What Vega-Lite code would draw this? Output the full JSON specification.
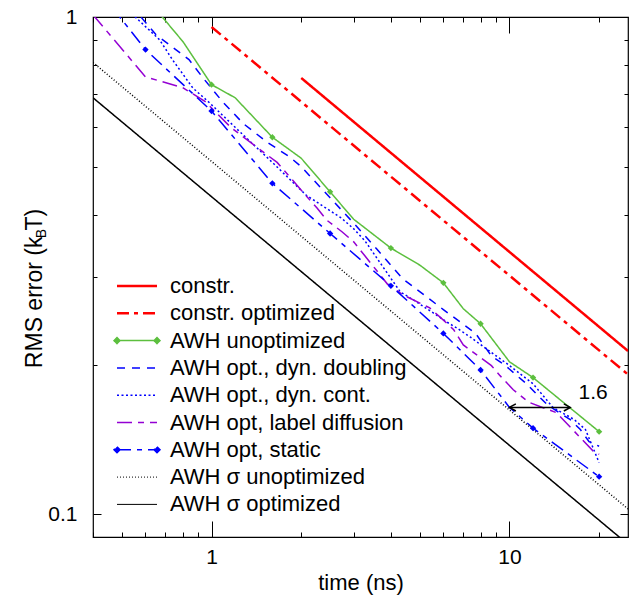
{
  "$schema": "https://vega.github.io/schema/vega-lite/v6.json",
  "width": 535,
  "height": 520,
  "autosize": {"type": "none"},
  "padding": {"left": 93, "top": 17, "right": 7, "bottom": 60},
  "background": "white",
  "config": {
    "view": {"stroke": "black", "strokeWidth": 1.2},
    "font": "Liberation Sans",
    "legend": {"labelFontSize": 22, "labelFont": "Liberation Sans"},
    "axis": {"labelFont": "Liberation Sans", "titleFont": "Liberation Sans", "labelColor": "black", "titleColor": "black", "tickColor": "black", "titleFontWeight": "normal", "domain": false, "grid": false, "labelOverlap": false, "labelFlush": false, "labelBound": false}
  },
  "datasets": {
    "d": [
      {"series": "constr.", "t": 2, "rms": 0.754},
      {"series": "constr.", "t": 25, "rms": 0.213},
      {"series": "constr. optimized", "t": 1, "rms": 0.955},
      {"series": "constr. optimized", "t": 25, "rms": 0.191},
      {"series": "AWH unoptimized", "t": 0.63, "rms": 1.06},
      {"series": "AWH unoptimized", "t": 0.803, "rms": 0.891},
      {"series": "AWH unoptimized", "t": 1, "rms": 0.731},
      {"series": "AWH unoptimized", "t": 1.2, "rms": 0.688},
      {"series": "AWH unoptimized", "t": 1.6, "rms": 0.573},
      {"series": "AWH unoptimized", "t": 2, "rms": 0.52},
      {"series": "AWH unoptimized", "t": 2.5, "rms": 0.445},
      {"series": "AWH unoptimized", "t": 3, "rms": 0.392},
      {"series": "AWH unoptimized", "t": 4, "rms": 0.343},
      {"series": "AWH unoptimized", "t": 5, "rms": 0.317},
      {"series": "AWH unoptimized", "t": 6, "rms": 0.292},
      {"series": "AWH unoptimized", "t": 7, "rms": 0.259},
      {"series": "AWH unoptimized", "t": 8, "rms": 0.2416},
      {"series": "AWH unoptimized", "t": 10, "rms": 0.2026},
      {"series": "AWH unoptimized", "t": 12, "rms": 0.1883},
      {"series": "AWH unoptimized", "t": 20, "rms": 0.1466},
      {"series": "AWH opt., dyn. doubling", "t": 0.5, "rms": 1.11},
      {"series": "AWH opt., dyn. doubling", "t": 0.65, "rms": 0.922},
      {"series": "AWH opt., dyn. doubling", "t": 0.84, "rms": 0.821},
      {"series": "AWH opt., dyn. doubling", "t": 0.94, "rms": 0.752},
      {"series": "AWH opt., dyn. doubling", "t": 1.09, "rms": 0.675},
      {"series": "AWH opt., dyn. doubling", "t": 1.28, "rms": 0.61},
      {"series": "AWH opt., dyn. doubling", "t": 1.53, "rms": 0.561},
      {"series": "AWH opt., dyn. doubling", "t": 1.83, "rms": 0.523},
      {"series": "AWH opt., dyn. doubling", "t": 2, "rms": 0.5},
      {"series": "AWH opt., dyn. doubling", "t": 2.5, "rms": 0.433},
      {"series": "AWH opt., dyn. doubling", "t": 3, "rms": 0.385},
      {"series": "AWH opt., dyn. doubling", "t": 3.58, "rms": 0.342},
      {"series": "AWH opt., dyn. doubling", "t": 4.37, "rms": 0.298},
      {"series": "AWH opt., dyn. doubling", "t": 6, "rms": 0.258},
      {"series": "AWH opt., dyn. doubling", "t": 7.7, "rms": 0.231},
      {"series": "AWH opt., dyn. doubling", "t": 8.7, "rms": 0.208},
      {"series": "AWH opt., dyn. doubling", "t": 9.6, "rms": 0.2},
      {"series": "AWH opt., dyn. doubling", "t": 10.6, "rms": 0.19},
      {"series": "AWH opt., dyn. doubling", "t": 11.4, "rms": 0.183},
      {"series": "AWH opt., dyn. doubling", "t": 13.4, "rms": 0.166},
      {"series": "AWH opt., dyn. doubling", "t": 14.7, "rms": 0.16},
      {"series": "AWH opt., dyn. doubling", "t": 16, "rms": 0.155},
      {"series": "AWH opt., dyn. doubling", "t": 17.3, "rms": 0.148},
      {"series": "AWH opt., dyn. doubling", "t": 18.5, "rms": 0.14},
      {"series": "AWH opt., dyn. doubling", "t": 20, "rms": 0.137},
      {"series": "AWH opt., dyn. cont.", "t": 0.5, "rms": 1.06},
      {"series": "AWH opt., dyn. cont.", "t": 0.669, "rms": 0.9},
      {"series": "AWH opt., dyn. cont.", "t": 0.74, "rms": 0.82},
      {"series": "AWH opt., dyn. cont.", "t": 0.865, "rms": 0.72},
      {"series": "AWH opt., dyn. cont.", "t": 0.985, "rms": 0.672},
      {"series": "AWH opt., dyn. cont.", "t": 1.2, "rms": 0.6},
      {"series": "AWH opt., dyn. cont.", "t": 1.6, "rms": 0.51},
      {"series": "AWH opt., dyn. cont.", "t": 2.08, "rms": 0.438},
      {"series": "AWH opt., dyn. cont.", "t": 2.73, "rms": 0.394},
      {"series": "AWH opt., dyn. cont.", "t": 3, "rms": 0.375},
      {"series": "AWH opt., dyn. cont.", "t": 3.27, "rms": 0.355},
      {"series": "AWH opt., dyn. cont.", "t": 4.3, "rms": 0.28},
      {"series": "AWH opt., dyn. cont.", "t": 4.75, "rms": 0.27},
      {"series": "AWH opt., dyn. cont.", "t": 5.55, "rms": 0.254},
      {"series": "AWH opt., dyn. cont.", "t": 6.2, "rms": 0.243},
      {"series": "AWH opt., dyn. cont.", "t": 6.65, "rms": 0.237},
      {"series": "AWH opt., dyn. cont.", "t": 7.4, "rms": 0.227},
      {"series": "AWH opt., dyn. cont.", "t": 8.2, "rms": 0.217},
      {"series": "AWH opt., dyn. cont.", "t": 9.9, "rms": 0.2},
      {"series": "AWH opt., dyn. cont.", "t": 12, "rms": 0.183},
      {"series": "AWH opt., dyn. cont.", "t": 14, "rms": 0.164},
      {"series": "AWH opt., dyn. cont.", "t": 16.5, "rms": 0.155},
      {"series": "AWH opt., dyn. cont.", "t": 18, "rms": 0.148},
      {"series": "AWH opt., dyn. cont.", "t": 20, "rms": 0.127},
      {"series": "AWH opt, label diffusion", "t": 0.4, "rms": 1.01},
      {"series": "AWH opt, label diffusion", "t": 0.6, "rms": 0.758},
      {"series": "AWH opt, label diffusion", "t": 0.8, "rms": 0.721},
      {"series": "AWH opt, label diffusion", "t": 0.95, "rms": 0.677},
      {"series": "AWH opt, label diffusion", "t": 1.16, "rms": 0.6},
      {"series": "AWH opt, label diffusion", "t": 1.42, "rms": 0.547},
      {"series": "AWH opt, label diffusion", "t": 1.66, "rms": 0.51},
      {"series": "AWH opt, label diffusion", "t": 2.03, "rms": 0.444},
      {"series": "AWH opt, label diffusion", "t": 2.26, "rms": 0.413},
      {"series": "AWH opt, label diffusion", "t": 2.44, "rms": 0.39},
      {"series": "AWH opt, label diffusion", "t": 2.74, "rms": 0.37},
      {"series": "AWH opt, label diffusion", "t": 3, "rms": 0.353},
      {"series": "AWH opt, label diffusion", "t": 3.27, "rms": 0.331},
      {"series": "AWH opt, label diffusion", "t": 3.9, "rms": 0.29},
      {"series": "AWH opt, label diffusion", "t": 4.4, "rms": 0.276},
      {"series": "AWH opt, label diffusion", "t": 5.4, "rms": 0.26},
      {"series": "AWH opt, label diffusion", "t": 5.9, "rms": 0.248},
      {"series": "AWH opt, label diffusion", "t": 6.5, "rms": 0.235},
      {"series": "AWH opt, label diffusion", "t": 7, "rms": 0.219},
      {"series": "AWH opt, label diffusion", "t": 8.7, "rms": 0.199},
      {"series": "AWH opt, label diffusion", "t": 9.3, "rms": 0.19},
      {"series": "AWH opt, label diffusion", "t": 10.3, "rms": 0.178},
      {"series": "AWH opt, label diffusion", "t": 11.6, "rms": 0.168},
      {"series": "AWH opt, label diffusion", "t": 14.4, "rms": 0.16},
      {"series": "AWH opt, label diffusion", "t": 17.4, "rms": 0.142},
      {"series": "AWH opt, label diffusion", "t": 19.1, "rms": 0.134},
      {"series": "AWH opt, label diffusion", "t": 20, "rms": 0.132},
      {"series": "AWH opt, static", "t": 0.4, "rms": 1.17},
      {"series": "AWH opt, static", "t": 0.6, "rms": 0.86},
      {"series": "AWH opt, static", "t": 1, "rms": 0.647},
      {"series": "AWH opt, static", "t": 1.6, "rms": 0.463},
      {"series": "AWH opt, static", "t": 2.5, "rms": 0.367},
      {"series": "AWH opt, static", "t": 4, "rms": 0.288},
      {"series": "AWH opt, static", "t": 6, "rms": 0.231},
      {"series": "AWH opt, static", "t": 8, "rms": 0.195},
      {"series": "AWH opt, static", "t": 10, "rms": 0.164},
      {"series": "AWH opt, static", "t": 12, "rms": 0.149},
      {"series": "AWH opt, static", "t": 20, "rms": 0.119},
      {"series": "AWH σ unoptimized", "t": 0.4, "rms": 0.81},
      {"series": "AWH σ unoptimized", "t": 25, "rms": 0.1025},
      {"series": "AWH σ optimized", "t": 0.4, "rms": 0.688},
      {"series": "AWH σ optimized", "t": 25, "rms": 0.087}
    ],
    "arrow": [{"t1": 10, "t2": 16, "rms": 0.164}],
    "note": [{"t": 19.1, "rms": 0.175, "label": "1.6"}]
  },
  "resolve": {"axis": {"x": "independent", "y": "independent"}},
  "layer": [
    {
      "data": {"name": "d"},
      "mark": {"type": "line", "clip": true},
      "encoding": {
        "x": {"field": "t", "type": "quantitative",
          "scale": {"type": "log", "domain": [0.4, 25], "nice": false},
          "axis": {"orient": "bottom", "values": [0.4, 0.5, 0.6, 0.7, 0.8, 0.9, 1, 2, 3, 4, 5, 6, 7, 8, 9, 10, 20],
            "labelExpr": "datum.value === 1 ? '1' : (datum.value === 10 ? '10' : '')",
            "tickSize": {"condition": {"test": "datum.value === 1 || datum.value === 10", "value": -16}, "value": -5},
            "labelPadding": 42, "labelBaseline": "alphabetic", "labelFontSize": 21,
            "title": "time (ns)", "titleFontSize": 22, "titleX": 267.5, "titleY": 52, "titleBaseline": "alphabetic", "titleAlign": "center"}},
        "y": {"field": "rms", "type": "quantitative",
          "scale": {"type": "log", "domain": [0.09, 1], "nice": false},
          "axis": {"orient": "left", "values": [0.1, 0.2, 0.3, 0.4, 0.5, 0.6, 0.7, 0.8, 0.9, 1],
            "labelExpr": "datum.value === 1 ? '1' : (datum.value === 0.1 ? '0.1' : '')",
            "tickSize": {"condition": {"test": "datum.value === 1 || datum.value === 0.1", "value": -8}, "value": -4},
            "labelPadding": 24, "labelFontSize": 21,
            "title": "RMS error (k   T)", "titleFontSize": 23, "titleAngle": -90, "titleX": -52, "titleY": 271, "titleBaseline": "alphabetic", "titleAlign": "center"}},
        "color": {"field": "series", "type": "nominal",
          "scale": {"domain": ["constr.", "constr. optimized", "AWH unoptimized", "AWH opt., dyn. doubling", "AWH opt., dyn. cont.", "AWH opt, label diffusion", "AWH opt, static", "AWH σ unoptimized", "AWH σ optimized"],
            "range": ["#ff0000", "#ff0000", "#5cbf3e", "#0000ff", "#0000ff", "#9400d3", "#0000ff", "#000000", "#000000"]},
          "legend": {"orient": "none", "legendX": 33, "legendY": 258, "title": null, "padding": 0,
            "labelFont": "Liberation Sans", "labelFontSize": 22, "labelColor": "black", "labelLimit": 400,
            "symbolSize": 100, "rowPadding": 5.3, "labelOffset": 22, "symbolType": "stroke",
            "encode": {"symbols": {"update": {
              "fill": {"scale": "color", "field": "value"},
              "shape": {"signal": "(datum.value === 'AWH unoptimized' || datum.value === 'AWH opt, static') ? 'M-4,0L4,0M-4,-0.6L-3.4,0L-4,0.6L-4.6,0ZM4,-0.6L4.6,0L4,0.6L3.4,0Z' : 'M-4,0L4,0'"},
              "strokeWidth": {"signal": "(datum.value === 'constr.' || datum.value === 'constr. optimized') ? 2.5 : ((datum.value === 'AWH σ unoptimized' || datum.value === 'AWH σ optimized') ? 1 : 1.5)"}
            }}}}},
        "strokeDash": {"field": "series", "type": "nominal",
          "scale": {"domain": ["constr.", "constr. optimized", "AWH unoptimized", "AWH opt., dyn. doubling", "AWH opt., dyn. cont.", "AWH opt, label diffusion", "AWH opt, static", "AWH σ unoptimized", "AWH σ optimized"],
            "range": [[1, 0], [12, 5, 4, 5], [1, 0], [8, 7], [2, 2.5], [15, 6, 6, 6], [14, 6, 5, 6], [1, 2], [1, 0]]}},
        "strokeWidth": {"condition": {"test": "datum.series === 'constr.' || datum.series === 'constr. optimized'", "value": 2.5},
          "value": 1.5},
        "order": {"field": "t", "type": "quantitative"}
      }
    },
    {
      "data": {"name": "d"},
      "transform": [
        {"filter": {"field": "series", "oneOf": ["AWH unoptimized", "AWH opt, static"]}},
        {"filter": {"field": "t", "oneOf": [0.6, 1, 1.6, 2.5, 4, 6, 8, 12, 20]}}
      ],
      "mark": {"type": "point", "shape": "diamond", "filled": true, "size": 40, "opacity": 1, "clip": true},
      "encoding": {
        "x": {"field": "t", "type": "quantitative", "scale": {"type": "log", "domain": [0.4, 25], "nice": false}, "axis": null},
        "y": {"field": "rms", "type": "quantitative", "scale": {"type": "log", "domain": [0.09, 1], "nice": false}, "axis": null},
        "color": {"condition": {"test": "datum.series === 'AWH unoptimized'", "value": "#5cbf3e"}, "value": "#0000ff"}
      }
    },
    {
      "data": {"name": "arrow"},
      "mark": {"type": "rule", "color": "black", "strokeWidth": 1.5},
      "encoding": {
        "x": {"field": "t1", "type": "quantitative", "scale": {"type": "log", "domain": [0.4, 25], "nice": false},
          "axis": {"orient": "top", "values": [0.4, 0.5, 0.6, 0.7, 0.8, 0.9, 1, 2, 3, 4, 5, 6, 7, 8, 9, 10, 20], "labels": false, "title": null,
            "tickSize": {"condition": {"test": "datum.value === 1 || datum.value === 10", "value": -16}, "value": -5}}},
        "x2": {"field": "t2"},
        "y": {"field": "rms", "type": "quantitative", "scale": {"type": "log", "domain": [0.09, 1], "nice": false},
          "axis": {"orient": "right", "values": [0.1, 0.2, 0.3, 0.4, 0.5, 0.6, 0.7, 0.8, 0.9, 1], "labels": false, "title": null,
            "tickSize": {"condition": {"test": "datum.value === 1 || datum.value === 0.1", "value": -8}, "value": -4}}}
      }
    },
    {
      "data": {"name": "arrow"},
      "mark": {"type": "point", "shape": "M1.6,-0.9L0,0L1.6,0.9", "size": 64, "filled": false, "stroke": "black", "strokeWidth": 1.5, "opacity": 1},
      "encoding": {
        "x": {"field": "t1", "type": "quantitative", "scale": {"type": "log", "domain": [0.4, 25], "nice": false}, "axis": null},
        "y": {"field": "rms", "type": "quantitative", "scale": {"type": "log", "domain": [0.09, 1], "nice": false}, "axis": null}
      }
    },
    {
      "data": {"name": "arrow"},
      "mark": {"type": "point", "shape": "M-1.6,-0.9L0,0L-1.6,0.9", "size": 64, "filled": false, "stroke": "black", "strokeWidth": 1.5, "opacity": 1},
      "encoding": {
        "x": {"field": "t2", "type": "quantitative", "scale": {"type": "log", "domain": [0.4, 25], "nice": false}, "axis": null},
        "y": {"field": "rms", "type": "quantitative", "scale": {"type": "log", "domain": [0.09, 1], "nice": false}, "axis": null}
      }
    },
    {
      "data": {"name": "note"},
      "mark": {"type": "text", "fontSize": 21, "font": "Liberation Sans", "color": "black", "align": "center", "baseline": "middle"},
      "encoding": {
        "x": {"field": "t", "type": "quantitative", "scale": {"type": "log", "domain": [0.4, 25], "nice": false}, "axis": null},
        "y": {"field": "rms", "type": "quantitative", "scale": {"type": "log", "domain": [0.09, 1], "nice": false},
          "axis": {"orient": "left", "ticks": false, "labels": false, "title": "B", "titleFontSize": 14, "titleAngle": -90, "titleX": -48, "titleY": 216, "titleBaseline": "alphabetic", "titleAlign": "center"}},
        "text": {"field": "label"}
      }
    }
  ]
}
